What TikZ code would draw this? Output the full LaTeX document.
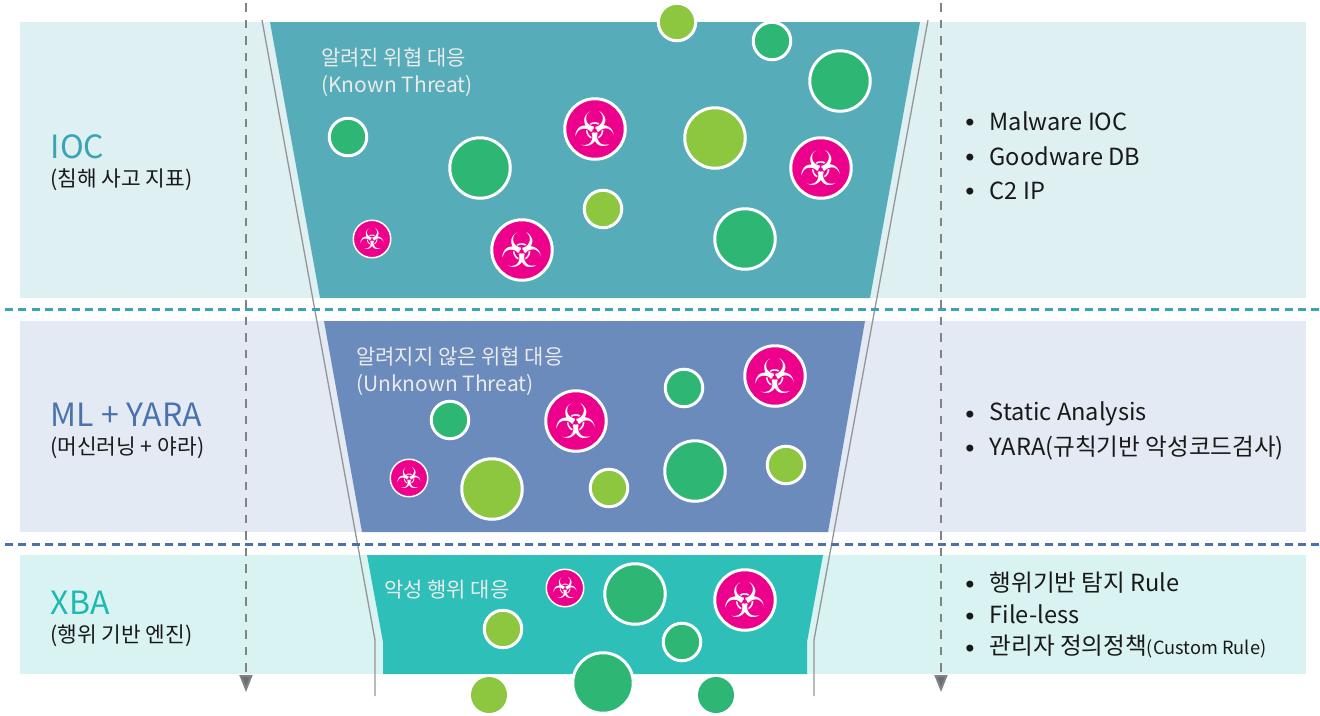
\documentclass[tikz,border=0pt]{standalone}
\usepackage{fontspec}
\setmainfont{Noto Sans CJK KR}
\newfontfamily\biofont{DejaVu Sans}
\usetikzlibrary{arrows.meta}

\definecolor{tealline}{HTML}{3AA3B6}
\definecolor{blueline}{HTML}{4A72AE}
\definecolor{aquatext}{HTML}{1DB9B3}
\definecolor{limeball}{HTML}{8DC63F}
\definecolor{greenball}{HTML}{2DB674}
\definecolor{pinkball}{HTML}{EC008C}
\definecolor{railgray}{HTML}{939598}
\definecolor{guidegray}{HTML}{808285}
\definecolor{arrowgray}{HTML}{6D6E71}

\begin{document}
\begin{tikzpicture}[x=1pt, y=-1pt,
    every node/.style={text=black!90},
    ball/.style={circle, draw=white, line width=3pt, inner sep=0pt},
    big/.style={minimum size=60.5pt},
    small/.style={minimum size=37.5pt},
    lime/.style={ball, fill=limeball},
    green/.style={ball, fill=greenball},
    bio/.style={ball, fill=pinkball, text=white, big, font=\biofont\fontsize{48}{48}\selectfont},
    biosmall/.style={ball, fill=pinkball, text=white, small, line width=1.5pt, font=\biofont\fontsize{29}{29}\selectfont},
    loose/.style={circle, inner sep=0pt},
    title/.style={anchor=west, inner sep=0pt, font=\fontsize{32}{36}\selectfont},
    subtitle/.style={anchor=west, inner sep=0pt, font=\fontsize{21.4}{24}\selectfont},
    inner/.style={anchor=west, text=white!92!black, font=\fontsize{21}{27}\selectfont, align=left, inner sep=0pt},
    entry/.style={anchor=west, inner sep=0pt, font=\fontsize{23.6}{28}\selectfont},
    dot/.style={anchor=center, inner sep=0pt, xshift=1pt, yshift=-3pt, font=\biofont\fontsize{24}{26}\selectfont},
    rail/.style={draw=railgray, line width=1.3pt},
    guide/.style={draw=guidegray, line width=2pt, dash pattern=on 8.5pt off 8pt, -{Triangle[length=17pt, width=13pt, fill=arrowgray]}},
    divider/.style={line width=3pt, dash pattern=on 8pt off 5.33pt}]

\useasboundingbox (0,0) rectangle (1320,715);

% Bands
\fill[fill=tealline!16!white] (20,22) rectangle (1306,298);
\fill[fill=blueline!15!white] (20,321) rectangle (1306,532);
\fill[fill=aquatext!17!white] (20,555) rectangle (1306,674);

% Funnel
\fill[fill={rgb,255:red,87;green,172;blue,186}] (270,22) -- (920,22) -- (870,298) -- (320,298) -- cycle;
\fill[fill=blueline!82!white] (324,321) -- (865,321) -- (828,532) -- (362,532) -- cycle;
\fill[fill=aquatext!92!white] (367,555) -- (823,555) -- (807,642) -- (807,674) -- (383,674) -- (383,642) -- cycle;

% Rails
\coordinate (railLtop) at (262,20);
\coordinate (railLkink) at (375,640);
\coordinate (railLend) at (375,696);
\coordinate (railRtop) at (928,20);
\coordinate (railRkink) at (814,640);
\coordinate (railRend) at (814,696);
\draw[rail] (railLtop) -- (railLkink) -- (railLend);
\draw[rail] (railRtop) -- (railRkink) -- (railRend);

% Dividers and guides
\coordinate (tealL) at (5,309);
\coordinate (tealR) at (1320,309);
\coordinate (blueL) at (5,544);
\coordinate (blueR) at (1320,544);
\draw[divider, draw=tealline] (tealL) -- (tealR);
\draw[divider, draw=blueline] (blueL) -- (blueR);
\coordinate (guideLtop) at (246,3);
\coordinate (guideLend) at (246,692);
\coordinate (guideRtop) at (941,3);
\coordinate (guideRend) at (941,692);
\draw[guide] (guideLtop) -- (guideLend);
\draw[guide] (guideRtop) -- (guideRend);

% Left labels
\node[title, text=tealline] (ioc) at (50.5,147) {IOC};
\node[subtitle] (iocsub) at (50,179.5) {(침해 사고 지표)};
\node[title, text=blueline] (ml) at (50.5,415) {ML + YARA};
\node[subtitle] (mlsub) at (50,448) {(머신러닝 + 야라)};
\node[title, text=aquatext] (xba) at (50.5,603) {XBA};
\node[subtitle] (xbasub) at (50,635.5) {(행위 기반 엔진)};

% Funnel labels
\node[inner] (known) at (321,72) {알려진 위협 대응\\(Known Threat)};
\node[inner] (unknown) at (356,371) {알려지지 않은 위협 대응\\(Unknown Threat)};
\node[inner] (behave) at (384,590) {악성 행위 대응};

% Right lists
\node[entry] (malware) at (989.5,121) {Malware IOC};
\node[entry] (goodware) at (989.5,156) {Goodware DB};
\node[entry] (cip) at (989.5,191) {C2 IP};
\node[entry] (static) at (989.5,414) {Static Analysis};
\node[entry] (yara) at (989.5,448) {YARA(규칙기반 악성코드검사)};
\node[entry] (rule) at (989.5,583) {행위기반 탐지 Rule};
\node[entry] (fileless) at (989.5,614) {File-less};
\node[entry] (custom) at (989.5,647) {관리자 정의정책{\fontsize{18.2}{20}\selectfont(Custom Rule)}};
\node[dot] (bullet1) at (969,122) {•};
\node[dot] (bullet2) at (969,157) {•};
\node[dot] (bullet3) at (969,191) {•};
\node[dot] (bullet4) at (969,414) {•};
\node[dot] (bullet5) at (969,448) {•};
\node[dot] (bullet6) at (969,584) {•};
\node[dot] (bullet7) at (969,616) {•};
\node[dot] (bullet8) at (969,648) {•};

% Top band balls
\node[lime, small] (topa) at (677,22) {};
\node[green, small] (topb) at (772,41) {};
\node[green, big] (topc) at (840,81) {};
\node[bio] (topd) at (595,129) {☣};
\node[lime, big] (tope) at (715,138) {};
\node[bio] (topf) at (821,168) {☣};
\node[green, small] (topg) at (348,137) {};
\node[green, big] (toph) at (480,168) {};
\node[lime, small] (topi) at (603,209) {};
\node[biosmall] (topj) at (372,239) {☣};
\node[bio] (topk) at (522,250) {☣};
\node[green, big] (topl) at (745,239) {};

% Middle band balls
\node[bio] (mida) at (775,376) {☣};
\node[green, small] (midb) at (684,388) {};
\node[green, small] (midc) at (450,420) {};
\node[bio] (midd) at (576,421) {☣};
\node[green, big] (mide) at (695,471) {};
\node[lime, small] (midf) at (786,465) {};
\node[biosmall] (midg) at (409,478) {☣};
\node[lime, big] (midh) at (492,489) {};
\node[lime, small] (midi) at (609,488) {};

% Bottom band balls
\node[biosmall] (lowa) at (565,588) {☣};
\node[green, big] (lowb) at (635,594) {};
\node[bio] (lowc) at (745,600) {☣};
\node[lime, small] (lowd) at (503,629) {};
\node[green, small] (lowe) at (682,642) {};
\node[loose, fill=limeball, minimum size=36pt] (lowf) at (489,695) {};
\node[green, big] (lowg) at (603,683) {};
\node[loose, fill=greenball, minimum size=36pt] (lowh) at (716,695) {};

\end{tikzpicture}
\end{document}
